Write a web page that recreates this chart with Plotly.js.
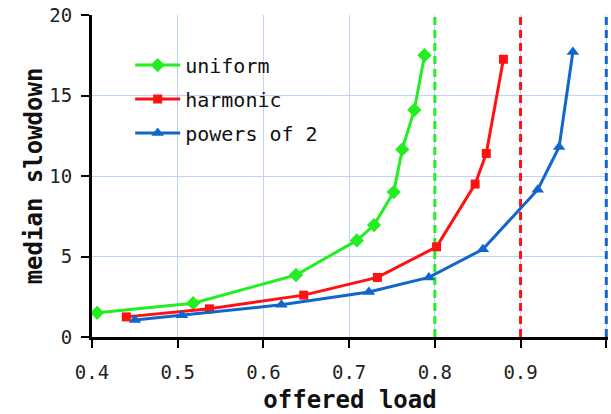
<!DOCTYPE html>
<html>
<head>
<meta charset="utf-8">
<script src="https://cdn.plot.ly/plotly-3.0.1.min.js"></script>
<style>html,body{margin:0;padding:0;background:#fff;}#chart{width:611px;height:414px;}</style>
</head>
<body>
<div id="chart"></div>
<script>
// offered load (x) and median slowdown (y) per distribution
const uniformLoad = [0.406, 0.518, 0.638, 0.709, 0.729, 0.752, 0.762, 0.776, 0.788];
const uniformSlow = [1.5, 2.1, 3.85, 6.0, 6.95, 9.0, 11.65, 14.1, 17.5];
const harmonicLoad = [0.44, 0.537, 0.647, 0.733, 0.802, 0.847, 0.86, 0.88];
const harmonicSlow = [1.25, 1.75, 2.6, 3.7, 5.6, 9.5, 11.4, 17.25];
const pow2Load = [0.45, 0.505, 0.621, 0.723, 0.793, 0.856, 0.92, 0.945, 0.961];
const pow2Slow = [1.05, 1.35, 2.0, 2.8, 3.7, 5.45, 9.15, 11.8, 17.7];
// saturation limits (dashed verticals)
const limits = [0.8, 0.9, 1.0];
const limitSpan = [0, 20];
const seriesNames = ['uniform', 'harmonic', 'powers of 2'];
const colors = ['#22ee22', '#ff1111', '#1166cc'];
const symbols = ['diamond', 'square', 'triangle-up'];
const sizes = [11, 9, 11];

const traces = [];
limits.forEach((lx, i) => {
  traces.push({
    x: [lx, lx], y: limitSpan, mode: 'lines', showlegend: false, hoverinfo: 'skip',
    line: {color: colors[i], width: 3, dash: '8px,5px'}
  });
});
const xs = [uniformLoad, harmonicLoad, pow2Load];
const ys = [uniformSlow, harmonicSlow, pow2Slow];
xs.forEach((xv, i) => {
  traces.push({
    x: xv, y: ys[i], name: seriesNames[i], mode: 'lines+markers',
    legendgroup: 'g' + i,
    line: {color: colors[i], width: 3},
    marker: {color: colors[i], symbol: symbols[i], size: sizes[i]}
  });
});

const tickFont = {family: 'DejaVu Sans Mono, monospace', size: 19, color: '#222'};
const titleFont = {family: 'DejaVu Sans Mono, monospace', size: 24, color: '#111', weight: 'bold'};

const layout = {
  width: 611, height: 414,
  margin: {l: 92, r: 3, t: 15, b: 77},
  paper_bgcolor: '#fff', plot_bgcolor: '#fff',
  showlegend: true,
  legend: {
    x: 0.074, y: 0.905, xanchor: 'left', yanchor: 'top',
    bgcolor: 'rgba(0,0,0,0)', borderwidth: 0,
    font: {family: 'DejaVu Sans Mono, monospace', size: 20, color: '#111'},
    tracegroupgap: 5, itemwidth: 45
  },
  xaxis: {
    range: [0.4, 1.002], dtick: 0.1, tick0: 0.4,
    showline: true, linecolor: '#000', linewidth: 3,
    ticks: 'outside', ticklen: 8, tickwidth: 2, tickcolor: '#000',
    showgrid: true, gridcolor: '#c0d2ff', gridwidth: 1, zeroline: false,
    tickfont: tickFont, ticklabelstandoff: 8,
    title: {text: 'offered load', font: titleFont, standoff: 10}
  },
  yaxis: {
    range: [0, 20], dtick: 5,
    showline: true, linecolor: '#000', linewidth: 3,
    ticks: 'outside', ticklen: 8, tickwidth: 2, tickcolor: '#000',
    showgrid: true, gridcolor: '#c0d2ff', gridwidth: 1, zeroline: false,
    tickfont: tickFont, ticklabelstandoff: 5,
    title: {text: 'median slowdown', font: titleFont, standoff: 0}
  }
};
Plotly.newPlot('chart', traces, layout, {displayModeBar: false, staticPlot: true});
</script>
</body>
</html>
